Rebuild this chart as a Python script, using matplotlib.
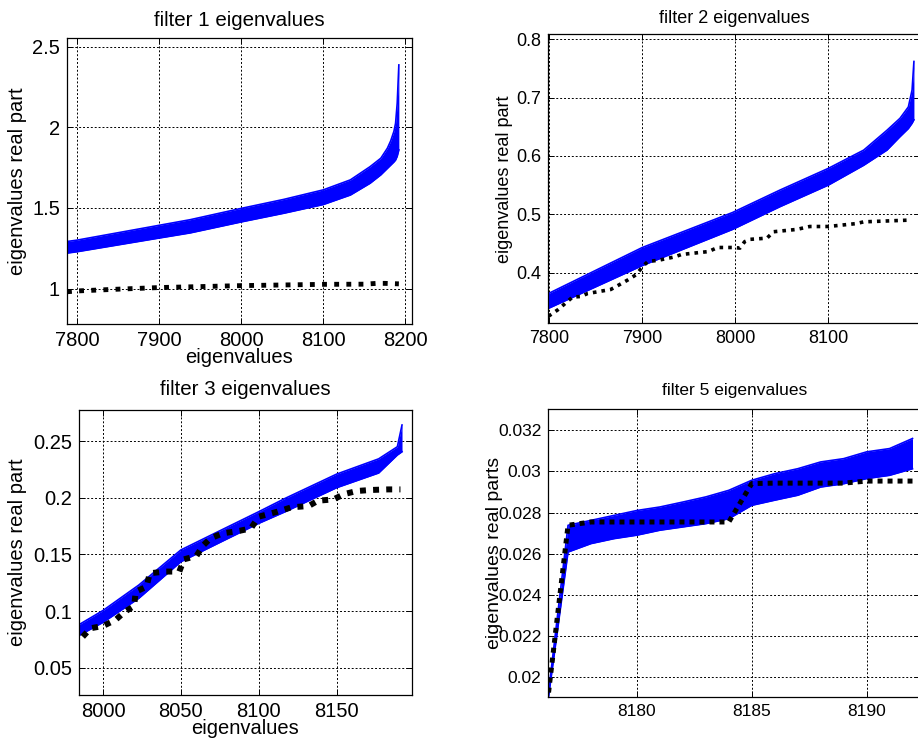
import matplotlib
matplotlib.use('Agg')
import matplotlib.pyplot as plt

plt.rcParams['font.family'] = ['Liberation Sans', 'DejaVu Sans']

# ---- filter 1 ----
f1_x = [7787, 7800, 7900, 7938, 8000, 8052, 8100, 8133, 8157, 8170, 8178, 8182, 8186, 8188, 8190, 8192]
f1_hi = [1.291, 1.300, 1.392, 1.427, 1.497, 1.553, 1.612, 1.674, 1.756, 1.808, 1.87, 1.915, 1.975, 2.025, 2.15, 2.387]
f1_lo = [1.219, 1.228, 1.313, 1.345, 1.413, 1.467, 1.521, 1.58, 1.653, 1.705, 1.745, 1.765, 1.785, 1.797, 1.82, 1.86]
f1_ref_x = [7788, 7800, 7850, 7900, 7950, 8000, 8050, 8100, 8150, 8165, 8175, 8192]
f1_ref = [0.980, 0.985, 0.996, 1.006, 1.012, 1.018, 1.022, 1.026, 1.027, 1.032, 1.032, 1.029]

# ---- filter 2 ----
f2_x = [7799, 7900, 7997, 8048, 8100, 8138, 8163, 8177, 8186, 8190, 8192]
f2_hi = [0.364, 0.443, 0.503, 0.5415, 0.5787, 0.61, 0.644, 0.6645, 0.684, 0.713, 0.762]
f2_lo = [0.3386, 0.412, 0.474, 0.513, 0.55, 0.584, 0.61, 0.633, 0.647, 0.656, 0.662]
f2_ref_x = [7799, 7809, 7825, 7834, 7841, 7866, 7874, 7884, 7893, 7902, 7906, 7917, 7935, 7942, 7971,
            7981, 7997, 8005, 8010, 8016, 8034, 8041, 8066, 8080, 8100, 8130, 8138, 8188]
f2_ref = [0.325, 0.336, 0.358, 0.359, 0.364, 0.371, 0.378, 0.387, 0.396, 0.413, 0.419, 0.421, 0.427, 0.431, 0.436,
          0.443, 0.443, 0.442, 0.453, 0.457, 0.459, 0.470, 0.474, 0.479, 0.479, 0.484, 0.487, 0.490]

# ---- filter 3 ----
f3_x = [7984, 8000, 8023, 8050, 8076, 8100, 8117, 8150, 8177, 8189, 8192]
f3_hi = [0.0875, 0.1005, 0.123, 0.154, 0.1716, 0.1878, 0.1996, 0.221, 0.2345, 0.2452, 0.2644]
f3_lo = [0.0780, 0.0900, 0.1113, 0.1436, 0.1613, 0.1775, 0.1878, 0.209, 0.222, 0.2379, 0.2408]
f3_ref_x = [7987, 7992, 8000, 8008, 8014, 8020, 8021, 8028, 8030, 8040, 8049, 8052, 8060, 8064, 8069, 8077,
            8088, 8095, 8100, 8112, 8121, 8132, 8138, 8148, 8155, 8163, 8172, 8183, 8191]
f3_ref = [0.0773, 0.0848, 0.0868, 0.0921, 0.0994, 0.1045, 0.1171, 0.1215, 0.1334, 0.1349, 0.1349, 0.1457,
          0.1487, 0.1575, 0.1643, 0.1687, 0.171, 0.1731, 0.1834, 0.1878, 0.1917, 0.1928, 0.1975, 0.1987,
          0.2034, 0.2061, 0.207, 0.2075, 0.2075]

# ---- filter 5 ----
f5_x = list(range(8176, 8193))
f5_hi = [0.0178, 0.02738, 0.02762, 0.02786, 0.0281, 0.02827, 0.02851, 0.02876, 0.02908,
         0.02957, 0.02989, 0.03013, 0.03046, 0.03062, 0.03095, 0.03111, 0.0316]
f5_lo = [0.0178, 0.02608, 0.02649, 0.02673, 0.0269, 0.02714, 0.0273, 0.02746, 0.0277,
         0.02835, 0.0286, 0.02884, 0.02924, 0.0294, 0.02965, 0.02981, 0.03013]
f5_ref = [0.0178, 0.02738, 0.02754, 0.02754, 0.02754, 0.02754, 0.02754, 0.02754, 0.02754,
          0.02941, 0.02943, 0.02943, 0.02943, 0.02943, 0.02953, 0.02953, 0.02953]

W, H = 918, 744
fig = plt.figure(figsize=(W / 100, H / 100), dpi=100)


def box(l, t, r, b):
    # pixel box -> figure fraction
    return [l / W, 1 - b / H, (r - l) / W, (b - t) / H]


panels = [
    dict(pos=box(67, 38, 412, 324), x=f1_x, hi=f1_hi, lo=f1_lo, rx=f1_ref_x, ry=f1_ref,
         xlim=(7788, 8208), ylim=(0.78, 2.554), xt=[7800, 7900, 8000, 8100, 8200],
         yt=[1, 1.5, 2, 2.5], ytl=['1', '1.5', '2', '2.5'], title='filter 1 eigenvalues', tfs=14.8, tpad=9,
         ylab='eigenvalues real part', yfs=14.5, ylx=-0.116, xlab='eigenvalues', fs=14.5, lw=3.5, dash=(1, 1.5)),
    dict(pos=box(548.3, 34.3, 921, 323.3), x=f2_x, hi=f2_hi, lo=f2_lo, rx=f2_ref_x, ry=f2_ref,
         xlim=(7798.9, 8199.6), ylim=(0.313, 0.8086), xt=[7800, 7900, 8000, 8100],
         yt=[0.4, 0.5, 0.6, 0.7, 0.8], ytl=['0.4', '0.5', '0.6', '0.7', '0.8'], title='filter 2 eigenvalues',
         tfs=13, tpad=8, ylab='eigenvalues real part', yfs=13, ylx=-0.096, xlab=None, fs=13, lw=2.6,
         dash=(1, 1.4)),
    dict(pos=box(78.7, 410.3, 412.3, 694.7), x=f3_x, hi=f3_hi, lo=f3_lo, rx=f3_ref_x, ry=f3_ref,
         xlim=(7984.4, 8198.6), ylim=(0.0261, 0.2774), xt=[8000, 8050, 8100, 8150],
         yt=[0.05, 0.1, 0.15, 0.2, 0.25], ytl=['0.05', '0.1', '0.15', '0.2', '0.25'], title='filter 3 eigenvalues',
         tfs=14.8, tpad=11, ylab='eigenvalues real part', yfs=14.5, ylx=-0.155, xlab='eigenvalues', fs=14.5,
         lw=4.3, dash=(1, 1.2)),
    dict(pos=box(548.3, 409.3, 921, 697), x=f5_x, hi=f5_hi, lo=f5_lo, rx=f5_x, ry=f5_ref,
         xlim=(8176.14, 8192.37), ylim=(0.01903, 0.03302), xt=[8180, 8185, 8190],
         yt=[0.02, 0.022, 0.024, 0.026, 0.028, 0.03, 0.032],
         ytl=['0.02', '0.022', '0.024', '0.026', '0.028', '0.03', '0.032'], title='filter 5 eigenvalues',
         tfs=12.5, tpad=10, ylab='eigenvalues real parts', yfs=14, ylx=-0.122, xlab=None, fs=12.5, lw=3.6,
         dash=(1, 1.0)),
]

for p in panels:
    ax = fig.add_axes(p['pos'])
    ax.fill_between(p['x'], p['lo'], p['hi'], color='#0000ff', lw=0)
    ax.plot(p['x'], p['hi'], color='#0000ff', lw=1.2)
    ax.plot(p['x'], p['lo'], color='#0000ff', lw=1.2)
    ax.plot(p['rx'], p['ry'], color='black', lw=p['lw'], linestyle=(0, p['dash']))
    ax.set_xlim(*p['xlim'])
    ax.set_ylim(*p['ylim'])
    ax.set_xticks(p['xt'])
    ax.set_xticklabels([str(v) for v in p['xt']])
    ax.set_yticks(p['yt'])
    ax.set_yticklabels(p['ytl'])
    ax.grid(True, color='black', linestyle=(0, (2, 2)), linewidth=0.7)
    ax.set_axisbelow(True)
    ax.tick_params(direction='in', length=4, width=0.7, top=True, right=True,
                   labelsize=p['fs'], pad=5)
    for s in ax.spines.values():
        s.set_linewidth(0.9)
    ax.set_title(p['title'], fontsize=p['tfs'], pad=p['tpad'])
    ax.set_ylabel(p['ylab'], fontsize=p['yfs'])
    ax.yaxis.set_label_coords(p['ylx'], 0.5)
    if p['xlab']:
        ax.set_xlabel(p['xlab'], fontsize=p['fs'], labelpad=0)
        ax.xaxis.set_label_coords(0.5, -0.085)

fig.savefig('out.png', dpi=100)
